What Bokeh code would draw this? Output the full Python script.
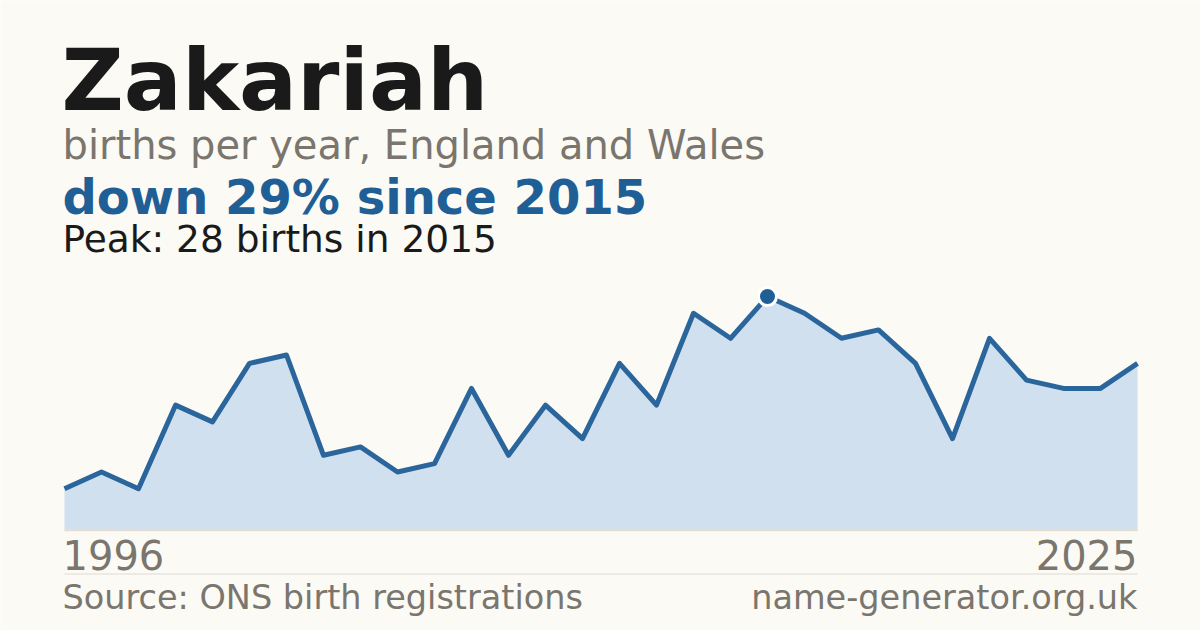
from bokeh.plotting import figure
from bokeh.models import Range1d, Label
from bokeh.embed import file_html
from bokeh.resources import INLINE

# ---- data ----
years = list(range(1996, 2026))
births = [5, 7, 5, 15, 13, 20, 21, 9, 10, 7, 8, 17, 9, 15, 11, 20, 15, 26, 23, 28,
          26, 23, 24, 20, 11, 23, 18, 17, 17, 20]
name = "Zakariah"
subtitle = "births per year, England and Wales"
headline = "down 29% since 2015"
peak_text = "Peak: 28 births in 2015"
first_label = "1996"
last_label = "2025"
source_text = "Source: ONS birth registrations"
site_text = "name-generator.org.uk"
peak_year = 2015
peak_value = 28

# ---- layout (pixels of the 1200x630 picture) ----
W, H = 1200, 630
OFF = 0
PX_PER_YEAR = 37.0
X0_PX = 64          # x pixel of first year
BASE_PX = 530       # y pixel of zero
PX_PER_UNIT = 234.0 / 28.0
BASELINE_FIX = 0.375  # Bokeh label baseline compensation (fraction of font size)

x_start = years[0] - (X0_PX - OFF) / PX_PER_YEAR
x_end = x_start + W / PX_PER_YEAR
y_end = (BASE_PX - OFF) / PX_PER_UNIT
y_start = y_end - H / PX_PER_UNIT


def px(X):
    return x_start + (X - OFF) / PX_PER_YEAR


def py(Y):
    return (BASE_PX - Y) / PX_PER_UNIT


BG = "#fbfaf5"
BLUE = "#1f5f96"
GREY = "#7a756d"
DARK = "#1a1a1a"
FONT = "DejaVu Sans"

p = figure(width=W, height=H, output_backend="svg", toolbar_location=None,
           x_range=Range1d(x_start, x_end), y_range=Range1d(y_start, y_end),
           min_border=0, background_fill_color=BG, border_fill_color=BG)
p.outline_line_color = None
p.xaxis.visible = False
p.yaxis.visible = False
p.xgrid.visible = False
p.ygrid.visible = False

p.varea(x=years, y1=[0] * len(years), y2=births, fill_color="#d0e0ef")
p.segment(x0=[years[0]], y0=[0], x1=[years[-1]], y1=[0], line_color="#e6ddcf", line_width=1.5)
p.line(x=years, y=births, line_color="#2a659c", line_width=5, line_join="round")
p.scatter(x=[peak_year], y=[peak_value], size=18, fill_color=BLUE,
          line_color="white", line_width=3)
p.segment(x0=[years[0]], y0=[py(573.5)], x1=[years[-1]], y1=[py(573.5)],
          line_color="#dedad2", line_width=1)


def lab(text, X, Y, size, color, bold=False, align="left"):
    p.add_layout(Label(x=px(X), y=py(Y - BASELINE_FIX * size), text=text, text_font=FONT,
                       text_font_size=f"{size}px", text_color=color,
                       text_font_style="bold" if bold else "normal",
                       text_align=align, text_baseline="alphabetic"))


lab(name, 61, 112, 86, DARK, bold=True)
lab(subtitle, 62, 159, 40, GREY)
lab(headline, 62, 214, 48, BLUE, bold=True)
lab(peak_text, 62, 253, 37.5, DARK)
lab(first_label, 62, 569, 40, GREY)
lab(last_label, 1137, 569, 40, GREY, align="right")
lab(source_text, 62, 610, 33.5, GREY)
lab(site_text, 1137, 610, 33.5, GREY, align="right")

open("out.html", "w").write(file_html(p, INLINE))
